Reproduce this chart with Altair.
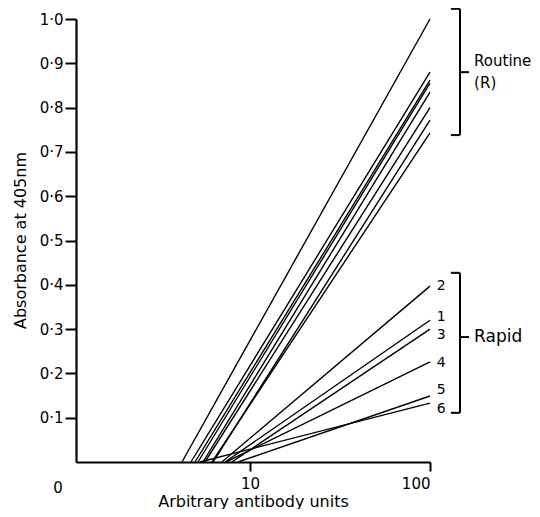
import altair as alt
import pandas as pd

# Routine assay lines: x where absorbance leaves zero, and absorbance at 100 units
routine_start = [4.19, 4.70, 4.95, 5.14, 5.48, 5.62, 6.23, 6.15]
routine_end = [1.00, 0.880, 0.862, 0.855, 0.835, 0.800, 0.772, 0.743]

# Rapid assay lines
rapid_labels = ["2", "1", "3", "4", "5", "6"]
rapid_start = [6.98, 7.27, 7.94, 7.36, 8.58, 5.27]
rapid_end = [0.397, 0.320, 0.300, 0.226, 0.149, 0.133]
rapid_label_y = [0.397, 0.328, 0.287, 0.223, 0.163, 0.120]

x_end = 100
y_ticks = [0.1, 0.2, 0.3, 0.4, 0.5, 0.6, 0.7, 0.8, 0.9, 1.0]
x_ticks = [10, 100]

# brackets (data units)
bracket_names = ["Routine", "Rapid"]
bracket_top = [1.023, 0.427]
bracket_bottom = [0.738, 0.111]
bracket_mid = [0.880, 0.282]

FONT = "DejaVu Sans"

rows = []
for i, (s, e) in enumerate(zip(routine_start, routine_end)):
    rows.append({"id": f"R{i}", "x": s, "y": 0.0})
    rows.append({"id": f"R{i}", "x": x_end, "y": e})
for lab, s, e in zip(rapid_labels, rapid_start, rapid_end):
    rows.append({"id": f"P{lab}", "x": s, "y": 0.0})
    rows.append({"id": f"P{lab}", "x": x_end, "y": e})
lines_df = pd.DataFrame(rows)

xscale = alt.Scale(type="log", domain=[1.08, 100], nice=False)
yscale = alt.Scale(domain=[0, 1.0], nice=False, zero=True)

lines = alt.Chart(lines_df).mark_line(color="black", strokeWidth=1.4).encode(
    x=alt.X("x:Q", scale=xscale,
            axis=alt.Axis(values=x_ticks, format="d", title="Arbitrary antibody units",
                          grid=False, domainColor="black", domainWidth=2.2,
                          tickColor="black", tickWidth=2, tickSize=9,
                          labelPadding=5, labelFontSize=15, labelColor="black",
                          labelFont=FONT, titleFont=FONT, titleFontSize=16,
                          titleFontWeight="normal", titleColor="black",
                          titleY=44, titleBaseline="alphabetic")),
    y=alt.Y("y:Q", scale=yscale,
            axis=alt.Axis(values=y_ticks,
                          labelExpr="replace(format(datum.value, '.1f'), '.', '·')",
                          title="Absorbance at 405nm", grid=False,
                          domainColor="black", domainWidth=2.2,
                          tickColor="black", tickWidth=2, tickSize=11,
                          labelPadding=2, labelFontSize=15, labelColor="black",
                          labelFont=FONT, titleFont=FONT, titleFontSize=16,
                          titleFontWeight="normal", titleColor="black",
                          titleX=-56, titleY=221, titleAngle=-90,
                          titleAlign="center", titleBaseline="middle")),
    detail="id:N",
)

zero_df = pd.DataFrame({"x": [1.08], "y": [-0.059], "t": ["0"]})
zero_label = alt.Chart(zero_df).mark_text(font=FONT, fontSize=15, color="black", dx=-18).encode(
    x=alt.X("x:Q", scale=xscale), y=alt.Y("y:Q", scale=yscale), text="t:N")

bx = 146.8
bx_hook = 130.6
bx_mid = 164.8
br_df = pd.DataFrame({
    "name": bracket_names,
    "top": bracket_top, "bottom": bracket_bottom, "mid": bracket_mid,
    "xv": [bx] * 2, "xh": [bx_hook] * 2, "xm": [bx_mid] * 2,
})
br_vert = alt.Chart(br_df).mark_rule(color="black", strokeWidth=2).encode(
    x=alt.X("xv:Q", scale=xscale), y=alt.Y("top:Q", scale=yscale), y2="bottom:Q")
br_top = alt.Chart(br_df).mark_rule(color="black", strokeWidth=2).encode(
    x=alt.X("xh:Q", scale=xscale), x2="xv:Q", y=alt.Y("top:Q", scale=yscale))
br_bot = alt.Chart(br_df).mark_rule(color="black", strokeWidth=2).encode(
    x=alt.X("xh:Q", scale=xscale), x2="xv:Q", y=alt.Y("bottom:Q", scale=yscale))
br_mid = alt.Chart(br_df).mark_rule(color="black", strokeWidth=2).encode(
    x=alt.X("xv:Q", scale=xscale), x2="xm:Q", y=alt.Y("mid:Q", scale=yscale))

routine_df = pd.DataFrame({"x": [175.8, 175.8], "y": [0.905, 0.855],
                           "t": ["Routine", "(R)"]})
routine_text = alt.Chart(routine_df).mark_text(font=FONT, fontSize=15, color="black",
                                               align="left", baseline="middle").encode(
    x=alt.X("x:Q", scale=xscale), y=alt.Y("y:Q", scale=yscale), text="t:N")

rapid_df = pd.DataFrame({"x": [175.8], "y": [0.282], "t": ["Rapid"]})
rapid_text = alt.Chart(rapid_df).mark_text(font=FONT, fontSize=17, color="black",
                                           align="left", baseline="middle").encode(
    x=alt.X("x:Q", scale=xscale), y=alt.Y("y:Q", scale=yscale), text="t:N")

num_df = pd.DataFrame({"x": [115.3] * len(rapid_labels), "y": rapid_label_y, "t": rapid_labels})
num_text = alt.Chart(num_df).mark_text(font=FONT, fontSize=14, color="black",
                                       align="center", baseline="middle").encode(
    x=alt.X("x:Q", scale=xscale), y=alt.Y("y:Q", scale=yscale), text="t:N")

chart = alt.layer(lines, zero_label, br_vert, br_top, br_bot, br_mid,
                  routine_text, rapid_text, num_text).properties(
    width=354, height=443,
    autosize=alt.AutoSizeParams(type="none"),
    padding={"left": 68, "top": 11, "right": 102, "bottom": 47},
).configure(background="white", view=alt.ViewConfig(stroke=None))

chart.save("out.html", embed_options={"renderer": "svg", "actions": False})
